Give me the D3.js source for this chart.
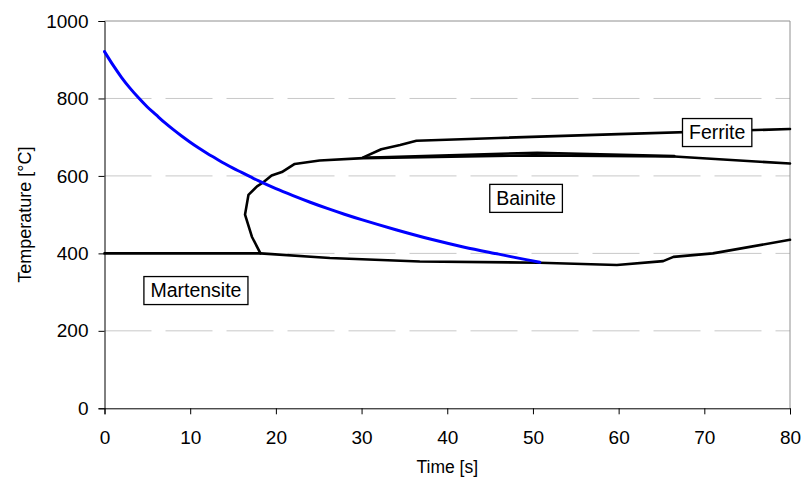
<!DOCTYPE html>
<html>
<head>
<meta charset="utf-8">
<script src="https://cdn.jsdelivr.net/npm/d3@7"></script>
<style>
  body { margin: 0; background: #fff; }
  text { font-family: "Liberation Sans", Arial, sans-serif; fill: #000; }
</style>
</head>
<body>
<script>
// cooling curve (blue)
var coolTime = [0, 1, 2, 3, 4, 5, 6, 7, 8, 9, 10, 11, 12, 13, 14, 15, 16, 17, 18, 20, 22, 24, 26, 28, 30, 34, 38, 42, 46, 48, 50.8];
var coolTemp = [921, 886, 854, 826, 801, 778, 758, 738, 720, 703, 687, 672, 658, 645, 632, 620, 609, 598, 587, 567, 549, 532, 516, 501, 487, 461, 437, 416, 398, 389, 377];

// Ms line + bainite finish
var msTime = [0, 18.2, 26.3, 36.8, 50.8, 59.8, 65.2, 66.4, 71, 80];
var msTemp = [400, 400, 388, 379, 376, 370, 380, 391, 400, 435];

// bainite start (nose)
var bsTime = [18.2, 17.2, 16.4, 16.8, 17.8, 18.5, 19.5, 20.7, 22.2, 25.1, 30.2, 50, 66.5, 80];
var bsTemp = [400, 443, 500, 551, 573, 583, 601, 610, 631, 640, 646, 653, 650, 632];

// second line close to bainite start
var b2Time = [30.2, 50.5, 66.5];
var b2Temp = [647, 660, 651];

// ferrite start
var feTime = [30.2, 32.3, 34.5, 36.4, 46, 60, 80];
var feTemp = [648, 669, 680, 691, 698, 708, 721];

var xTicks = [0, 10, 20, 30, 40, 50, 60, 70, 80];
var yTicks = [0, 200, 400, 600, 800, 1000];

var labelNames = ["Martensite", "Bainite", "Ferrite"];
var labelTime = [10.67, 49.2, 71.5];
var labelTemp = [304, 542, 712];

var svgWidth = 801, svgHeight = 482;
var x0 = 104.5, x1 = 790, yTop = 21, yBot = 408.3;

var svg = d3.select("body").append("svg")
  .attr("width", svgWidth)
  .attr("height", svgHeight);

var x = d3.scaleLinear().domain([0, 80]).range([x0, x1]);
var y = d3.scaleLinear().domain([0, 1000]).range([yBot, yTop]);

// gridlines
svg.append("g").selectAll("line")
  .data(yTicks.filter(d => d > 0 && d < 1000))
  .enter().append("line")
  .attr("x1", x0).attr("x2", x1)
  .attr("y1", d => y(d)).attr("y2", d => y(d))
  .attr("stroke", "#c8c8c8")
  .attr("stroke-width", 1)
  .attr("stroke-dasharray", "47,14");

// plot border (top/right)
svg.append("path")
  .attr("d", `M${x0},${yTop}H${x1}V${yBot}`)
  .attr("fill", "none")
  .attr("stroke", "#909090")
  .attr("stroke-width", 1);

// axes
var bottomAxis = d3.axisBottom(x).tickValues(xTicks).tickSize(6).tickPadding(16);
var leftAxis = d3.axisLeft(y).tickValues(yTicks).tickFormat(d3.format("d")).tickSize(6).tickPadding(10);

var gx = svg.append("g")
  .attr("transform", `translate(0, ${yBot})`)
  .call(bottomAxis);
var gy = svg.append("g")
  .attr("transform", `translate(${x0}, 0)`)
  .call(leftAxis);

[gx, gy].forEach(function(g) {
  g.selectAll("path, line").attr("stroke", "#000");
  g.selectAll("text").attr("font-size", 19).attr("fill", "#000")
    .style("font-family", "'Liberation Sans', Arial, sans-serif");
});

// axis titles
svg.append("text")
  .attr("transform", `translate(31, ${(yTop + yBot) / 2}) rotate(-90)`)
  .attr("text-anchor", "middle")
  .attr("font-size", 18)
  .text("Temperature [°C]");

svg.append("text")
  .attr("x", (x0 + x1) / 2)
  .attr("y", 473)
  .attr("text-anchor", "middle")
  .attr("font-size", 17.5)
  .text("Time [s]");

var line = d3.line().x(d => x(d[0])).y(d => y(d[1]));

function drawLine(ts, vs, color, width, curve) {
  var pts = ts.map((t, i) => [t, vs[i]]);
  svg.append("path")
    .datum(pts)
    .attr("d", line.curve(curve || d3.curveLinear))
    .attr("fill", "none")
    .attr("stroke", color)
    .attr("stroke-width", width)
    .attr("stroke-linejoin", "round")
    .attr("stroke-linecap", "round");
}

drawLine(msTime, msTemp, "#000", 2.6);
drawLine(bsTime, bsTemp, "#000", 2.6);
drawLine(b2Time, b2Temp, "#000", 2.6);
drawLine(feTime, feTemp, "#000", 2.6);
drawLine(coolTime, coolTemp, "#0000ff", 3, d3.curveCatmullRom.alpha(0.5));

// phase labels
labelNames.forEach(function(name, i) {
  var g = svg.append("g")
    .attr("transform", `translate(${x(labelTime[i])}, ${y(labelTemp[i])})`);
  var rect = g.append("rect").attr("fill", "#fff").attr("stroke", "#000").attr("stroke-width", 1.3);
  var t = g.append("text")
    .attr("text-anchor", "middle")
    .attr("dy", "0.35em")
    .attr("font-size", 19.5)
    .text(name);
  var bb = t.node().getBBox();
  var w = bb.width + 13, h = 28;
  rect.attr("x", -w / 2).attr("y", -h / 2).attr("width", w).attr("height", h);
});
</script>
</body>
</html>
